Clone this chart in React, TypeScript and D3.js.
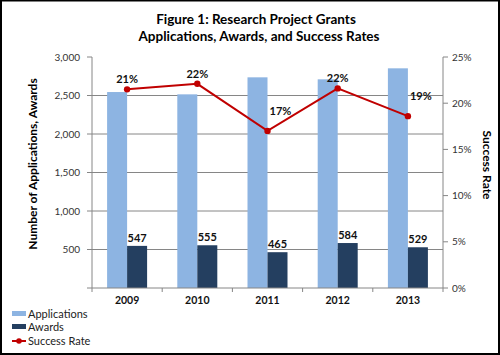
import React from "react";
import * as d3 from "d3";

const years = ["2009", "2010", "2011", "2012", "2013"];
const applications = [2545, 2515, 2736, 2710, 2853];
const awards = [547, 555, 465, 584, 529];
const successRate = [21.5, 22.1, 17.0, 21.6, 18.6];
const rateLabels = ["21%", "22%", "17%", "22%", "19%"];
const leftTicks = [500, 1000, 1500, 2000, 2500, 3000];
const rightTicks = [0, 5, 10, 15, 20, 25];
// label placement: 0 = above, 1 = right
const ratePlacement = [0, 0, 1, 0, 1];

const W = 500, H = 355;
const M = { left: 92, right: 443, top: 57, bottom: 288 };
const FONT = "Lato, 'Open Sans', sans-serif";

export default function App() {
  const x = d3.scaleBand().domain(years).range([M.left, M.right]).paddingInner(0).paddingOuter(0);
  const y = d3.scaleLinear().domain([0, 3000]).range([M.bottom, M.top]);
  const yr = d3.scaleLinear().domain([0, 25]).range([M.bottom, M.top]);
  const barW = 20;
  const cx = (d: string) => (x(d) as number) + x.bandwidth() / 2;
  const line = d3.line<number>().x((_, i) => cx(years[i])).y((d) => yr(d));

  return (
    <div style={{ position: "fixed", left: 0, top: 0 }}>
      <svg width={W} height={H} style={{ display: "block", fontFamily: FONT }}>
        <rect x={0} y={0} width={W} height={H} fill="#fff" />
        <rect x={1} y={0.5} width={W - 2} height={H - 1.5} fill="none" stroke="#000" strokeWidth={2} />
        <text x={256} y={24} textAnchor="middle" fontSize={13.5} fontWeight="bold" fill="#000">
          Figure 1: Research Project Grants
        </text>
        <text x={259} y={40.5} textAnchor="middle" fontSize={13.5} fontWeight="bold" fill="#000">
          Applications, Awards, and Success Rates
        </text>

        {/* gridlines */}
        {leftTicks.filter((t) => t < 3000).map((t) => (
          <line key={"g" + t} x1={M.left} x2={M.right} y1={y(t)} y2={y(t)} stroke="#868686" strokeWidth={1} />
        ))}

        {/* bars */}
        {years.map((yy, i) => (
          <g key={"b" + yy}>
            <rect x={cx(yy) - barW} y={y(applications[i])} width={barW} height={M.bottom - y(applications[i])} fill="#8DB4E2" />
            <rect x={cx(yy)} y={y(awards[i])} width={barW} height={M.bottom - y(awards[i])} fill="#243F60" />
            <text x={cx(yy) + barW / 2} y={y(awards[i]) - 4} textAnchor="middle" fontSize={11} fontWeight="bold" fill="#111">
              {awards[i]}
            </text>
          </g>
        ))}

        {/* axes */}
        <line x1={M.left} x2={M.left} y1={M.top} y2={M.bottom} stroke="#868686" />
        <line x1={M.right} x2={M.right} y1={M.top} y2={M.bottom} stroke="#868686" />
        <line x1={M.left} x2={M.right} y1={M.bottom} y2={M.bottom} stroke="#868686" />
        {[0, ...leftTicks].map((t) => (
          <line key={"lt" + t} x1={M.left - 5} x2={M.left} y1={y(t)} y2={y(t)} stroke="#868686" />
        ))}
        {leftTicks.map((t) => (
          <text key={"ll" + t} x={80} y={y(t) + 3.5} textAnchor="end" fontSize={10} fill="#333">
            {d3.format(",")(t)}
          </text>
        ))}
        {rightTicks.map((t) => (
          <g key={"r" + t}>
            <line x1={M.right} x2={M.right + 5} y1={yr(t)} y2={yr(t)} stroke="#868686" />
            <text x={452} y={yr(t) + 3.5} fontSize={10} fill="#333">{t + "%"}</text>
          </g>
        ))}
        {years.concat(["end"]).map((yy, i) => (
          <line key={"xt" + i} x1={M.left + i * x.bandwidth()} x2={M.left + i * x.bandwidth()} y1={M.bottom} y2={M.bottom + 4} stroke="#868686" />
        ))}
        {years.map((yy) => (
          <text key={"xl" + yy} x={cx(yy)} y={304} textAnchor="middle" fontSize={10.5} fontWeight="bold" fill="#111">
            {yy}
          </text>
        ))}

        {/* success rate line */}
        <path d={line(successRate) as string} fill="none" stroke="#C00000" strokeWidth={2} />
        {successRate.map((r, i) => (
          <circle key={"c" + i} cx={cx(years[i])} cy={yr(r)} r={3.2} fill="#C00000" />
        ))}
        {successRate.map((r, i) => (
          <text
            key={"rl" + i}
            x={ratePlacement[i] ? cx(years[i]) + 2 : cx(years[i])}
            y={ratePlacement[i] ? yr(r) - 16 : yr(r) - 6}
            textAnchor={ratePlacement[i] ? "start" : "middle"}
            fontSize={11}
            fontWeight="bold"
            fill="#111"
          >
            {rateLabels[i]}
          </text>
        ))}

        {/* axis titles */}
        <text transform="translate(37,164) rotate(-90)" textAnchor="middle" fontSize={12} fontWeight="bold" fill="#000">
          Number of Applications, Awards
        </text>
        <text transform="translate(483,165) rotate(90)" textAnchor="middle" fontSize={12} fontWeight="bold" fill="#000">
          Success Rate
        </text>

        {/* legend */}
        <rect x={12} y={311} width={14} height={5} fill="#8DB4E2" />
        <text x={28} y={318} fontSize={11} fill="#222">Applications</text>
        <rect x={12} y={324} width={14} height={5} fill="#243F60" />
        <text x={28} y={331} fontSize={11} fill="#222">Awards</text>
        <line x1={12} x2={26} y1={341} y2={341} stroke="#C00000" strokeWidth={2} />
        <circle cx={19} cy={341} r={2.8} fill="#C00000" />
        <text x={28} y={345} fontSize={11} fill="#222">Success Rate</text>
      </svg>
    </div>
  );
}
